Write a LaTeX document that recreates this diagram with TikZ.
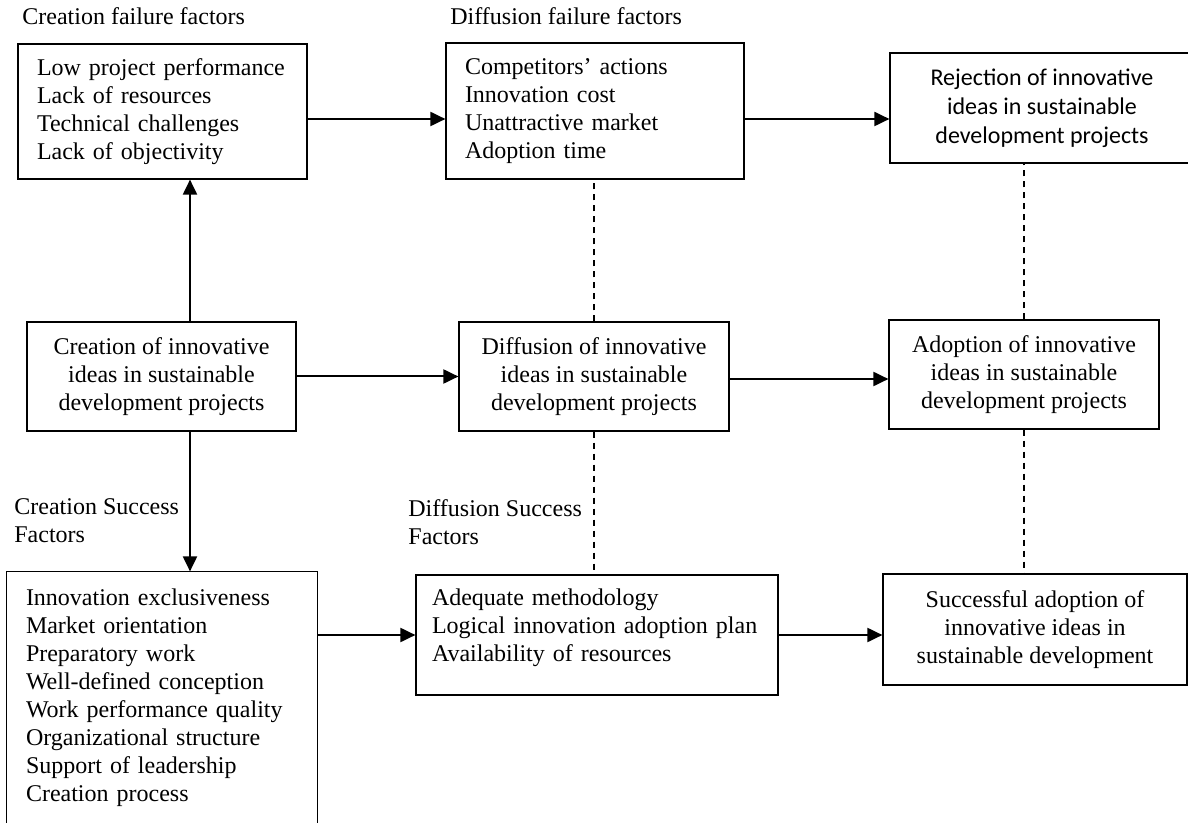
\documentclass[tikz,border=0pt]{standalone}
\usepackage{fontspec}
\setmainfont{Liberation Serif}
\newfontfamily\calibri{Carlito}
\usetikzlibrary{arrows.meta}
\begin{document}
\begin{tikzpicture}[x=0.5pt,y=-0.5pt,
  every node/.style={font=\fontsize{12}{14}\selectfont},
  box/.style={draw, line width=0.6pt, inner sep=0pt},
  listbox/.style={box, align=left, inner xsep=9.5pt},
  cbox/.style={box, align=center},
  arr/.style={-{Triangle[length=7.5pt,width=7pt]}, line width=1pt},
  dline/.style={dashed, dash pattern=on 3pt off 2.5pt, line width=0.6pt},
  lbl/.style={anchor=base west, align=left, inner sep=0pt}
]
\useasboundingbox (0,0) rectangle (1188,823);

% labels
\node[lbl] (lcf) at (22,25) {Creation failure factors};
\node[lbl] (ldf) at (450,25) {Diffusion failure factors};
\node[lbl] (lcs) at (14,542) {Creation Success\\Factors};
\node[lbl] (lds) at (408,544) {Diffusion Success\\Factors};

% top row
\node[listbox, text width=125.5pt, minimum height=67.5pt] (tl) at (162.5,111.5)
  {Low project performance\\Lack of resources\\Technical challenges\\Lack of objectivity};
\node[listbox, text width=130pt, minimum height=68pt] (tm) at (595,111)
  {Competitors’ actions\\Innovation cost\\Unattractive market\\Adoption time};
\node[cbox, font=\calibri\fontsize{12}{14.5}\selectfont, minimum width=152pt, minimum height=55pt] (tr) at (1042,108)
  {Rejection of innovative\\ideas in sustainable\\development projects};

% middle row
\node[cbox, minimum width=134.5pt, minimum height=54.5pt] (ml) at (161.5,376.5)
  {Creation of innovative\\ideas in sustainable\\development projects};
\node[cbox, minimum width=135pt, minimum height=54.5pt] (mm) at (594,376.5)
  {Diffusion of innovative\\ideas in sustainable\\development projects};
\node[cbox, minimum width=135pt, minimum height=54.5pt] (mr) at (1024,374.5)
  {Adoption of innovative\\ideas in sustainable\\development projects};

% bottom row
\node[listbox, draw=none, text width=136pt, minimum height=125.5pt] (bl) at (162,697.5)
  {Innovation exclusiveness\\Market orientation\\Preparatory work\\Well-defined conception\\Work performance quality\\Organizational structure\\Support of leadership\\Creation process};
\draw[line width=0.6pt] (bl.south west) -- (bl.north west) -- (bl.north east) -- (bl.south east);
\node[listbox, inner xsep=8pt, text width=165pt, minimum height=60pt] (bm) at (597,635)
  {Adequate methodology\\Logical innovation adoption plan\\Availability of resources\\[-4pt]\mbox{}};
\node[cbox, minimum width=152pt, minimum height=55.5pt] (br) at (1035,629.5)
  {Successful adoption of\\innovative ideas in\\sustainable development};

% arrows
\draw[arr] ([yshift=-3.75pt]tl.east) -- ([yshift=-3.75pt]tl.east -| tm.west);
\draw[arr] ([yshift=-4pt]tm.east) -- ([yshift=-4pt]tm.east -| tr.west);
\draw[arr] ([xshift=14.25pt]ml.north) -- ([xshift=14.25pt]ml.north |- tl.south);
\draw[arr] ([xshift=14.25pt]ml.south) -- ([xshift=14.25pt]ml.south |- bl.north);
\draw[arr] (ml.east) -- (ml.east -| mm.west);
\draw[arr] ([yshift=-1.25pt]mm.east) -- ([yshift=-1.25pt]mm.east -| mr.west);
\draw[arr] (bl.east |- bm.west) -- (bm.west);
\draw[arr] (bm.east) -- (bm.east -| br.west);

% dashed links
\draw[dline] (mm.north) -- (mm.north |- tm.south);
\draw[dline] (mm.south) -- (mm.south |- bm.north);
\draw[dline] (mr.north) -- (mr.north |- tr.south);
\draw[dline] (mr.south) -- (mr.south |- br.north);
\end{tikzpicture}
\end{document}
